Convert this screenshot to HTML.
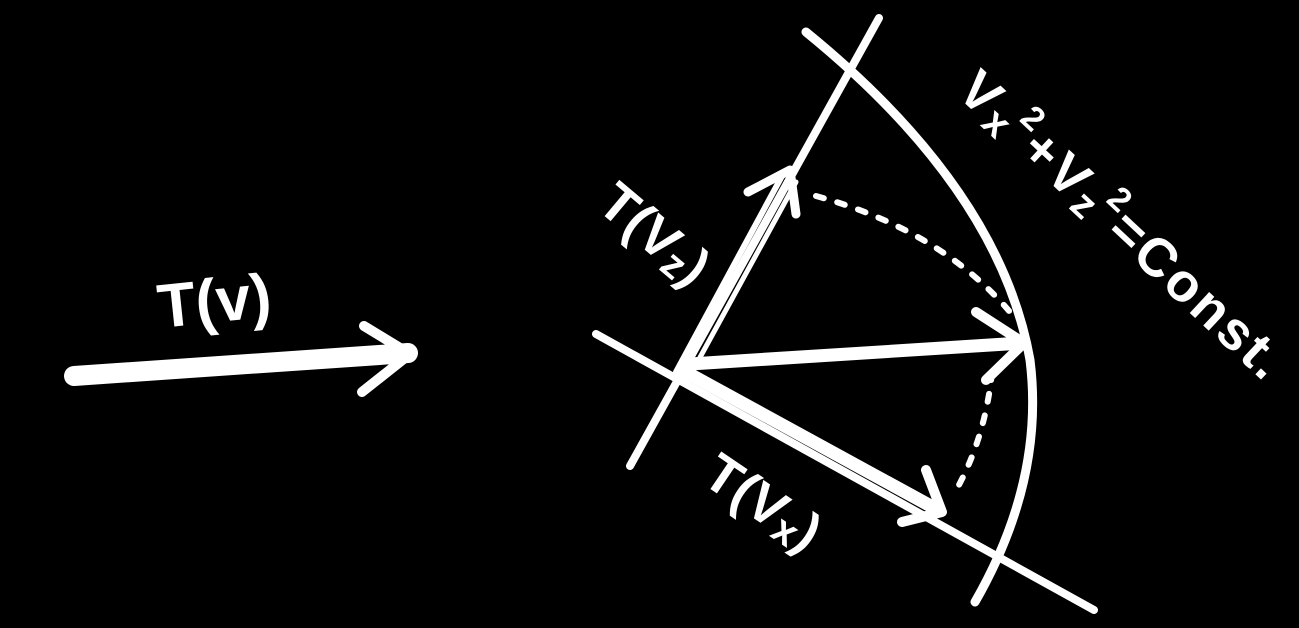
<!DOCTYPE html>
<html><head><meta charset="utf-8"><style>
html,body{margin:0;padding:0;background:#000;}
svg{display:block}
text{font-family:"Liberation Sans",sans-serif;fill:#fff;font-weight:bold;}
</style></head><body>
<svg width="1299" height="628" viewBox="0 0 1299 628" xmlns="http://www.w3.org/2000/svg">
<rect width="1299" height="628" fill="#000"/>
<g stroke="#fff" fill="none" stroke-linecap="round" stroke-linejoin="round">
  <path d="M74 376 L408 353" stroke-width="20"/>
  <path d="M364 326 L410 354 L362 392" stroke-width="10"/>
  <path d="M879 18 L630 466" stroke-width="8"/>
  <path d="M596 334 L1094 610" stroke-width="8"/>
  <path d="M806 32 Q1000 190 1030 360 Q1045 480 975 602" stroke-width="9"/>
  <path d="M676 372 L782 176" stroke-width="6"/>
  <path d="M692 372 L796 182" stroke-width="5"/>
  <path d="M748 192 L790 170 L796 214" stroke-width="9"/>
  <path d="M690 364 L1022 343" stroke-width="13"/>
  <path d="M976 312 L1024 343 L986 380" stroke-width="10"/>
  <path d="M682 370 L938 510" stroke-width="13"/>
  <path d="M926 470 L942 512 L902 522" stroke-width="10"/>
  <path d="M816 196 Q940 230 1010 312" stroke-width="6" stroke-dasharray="8 14"/>
  <path d="M992 372 Q985 440 954 494" stroke-width="6" stroke-dasharray="8 14"/>
</g>
<text x="160" y="328" font-size="62" transform="rotate(-6 160 328)">T(v)</text>
<text x="0" y="0" font-size="54" transform="translate(595 208) rotate(40)">T(V<tspan font-size="40" dy="6">z</tspan><tspan dy="-6">)</tspan></text>
<text x="0" y="0" font-size="54" transform="translate(700 482) rotate(34)">T(V<tspan font-size="40" dy="6">x</tspan><tspan dy="-6">)</tspan></text>
<text x="0" y="0" font-size="54" letter-spacing="3" transform="translate(955 94) rotate(43)">V<tspan font-size="40" dy="6">x</tspan><tspan font-size="34" dy="-30">2</tspan><tspan dy="24">+V</tspan><tspan font-size="40" dy="6">z</tspan><tspan font-size="34" dy="-30">2</tspan><tspan dy="24">=Const.</tspan></text>
</svg>
</body></html>
